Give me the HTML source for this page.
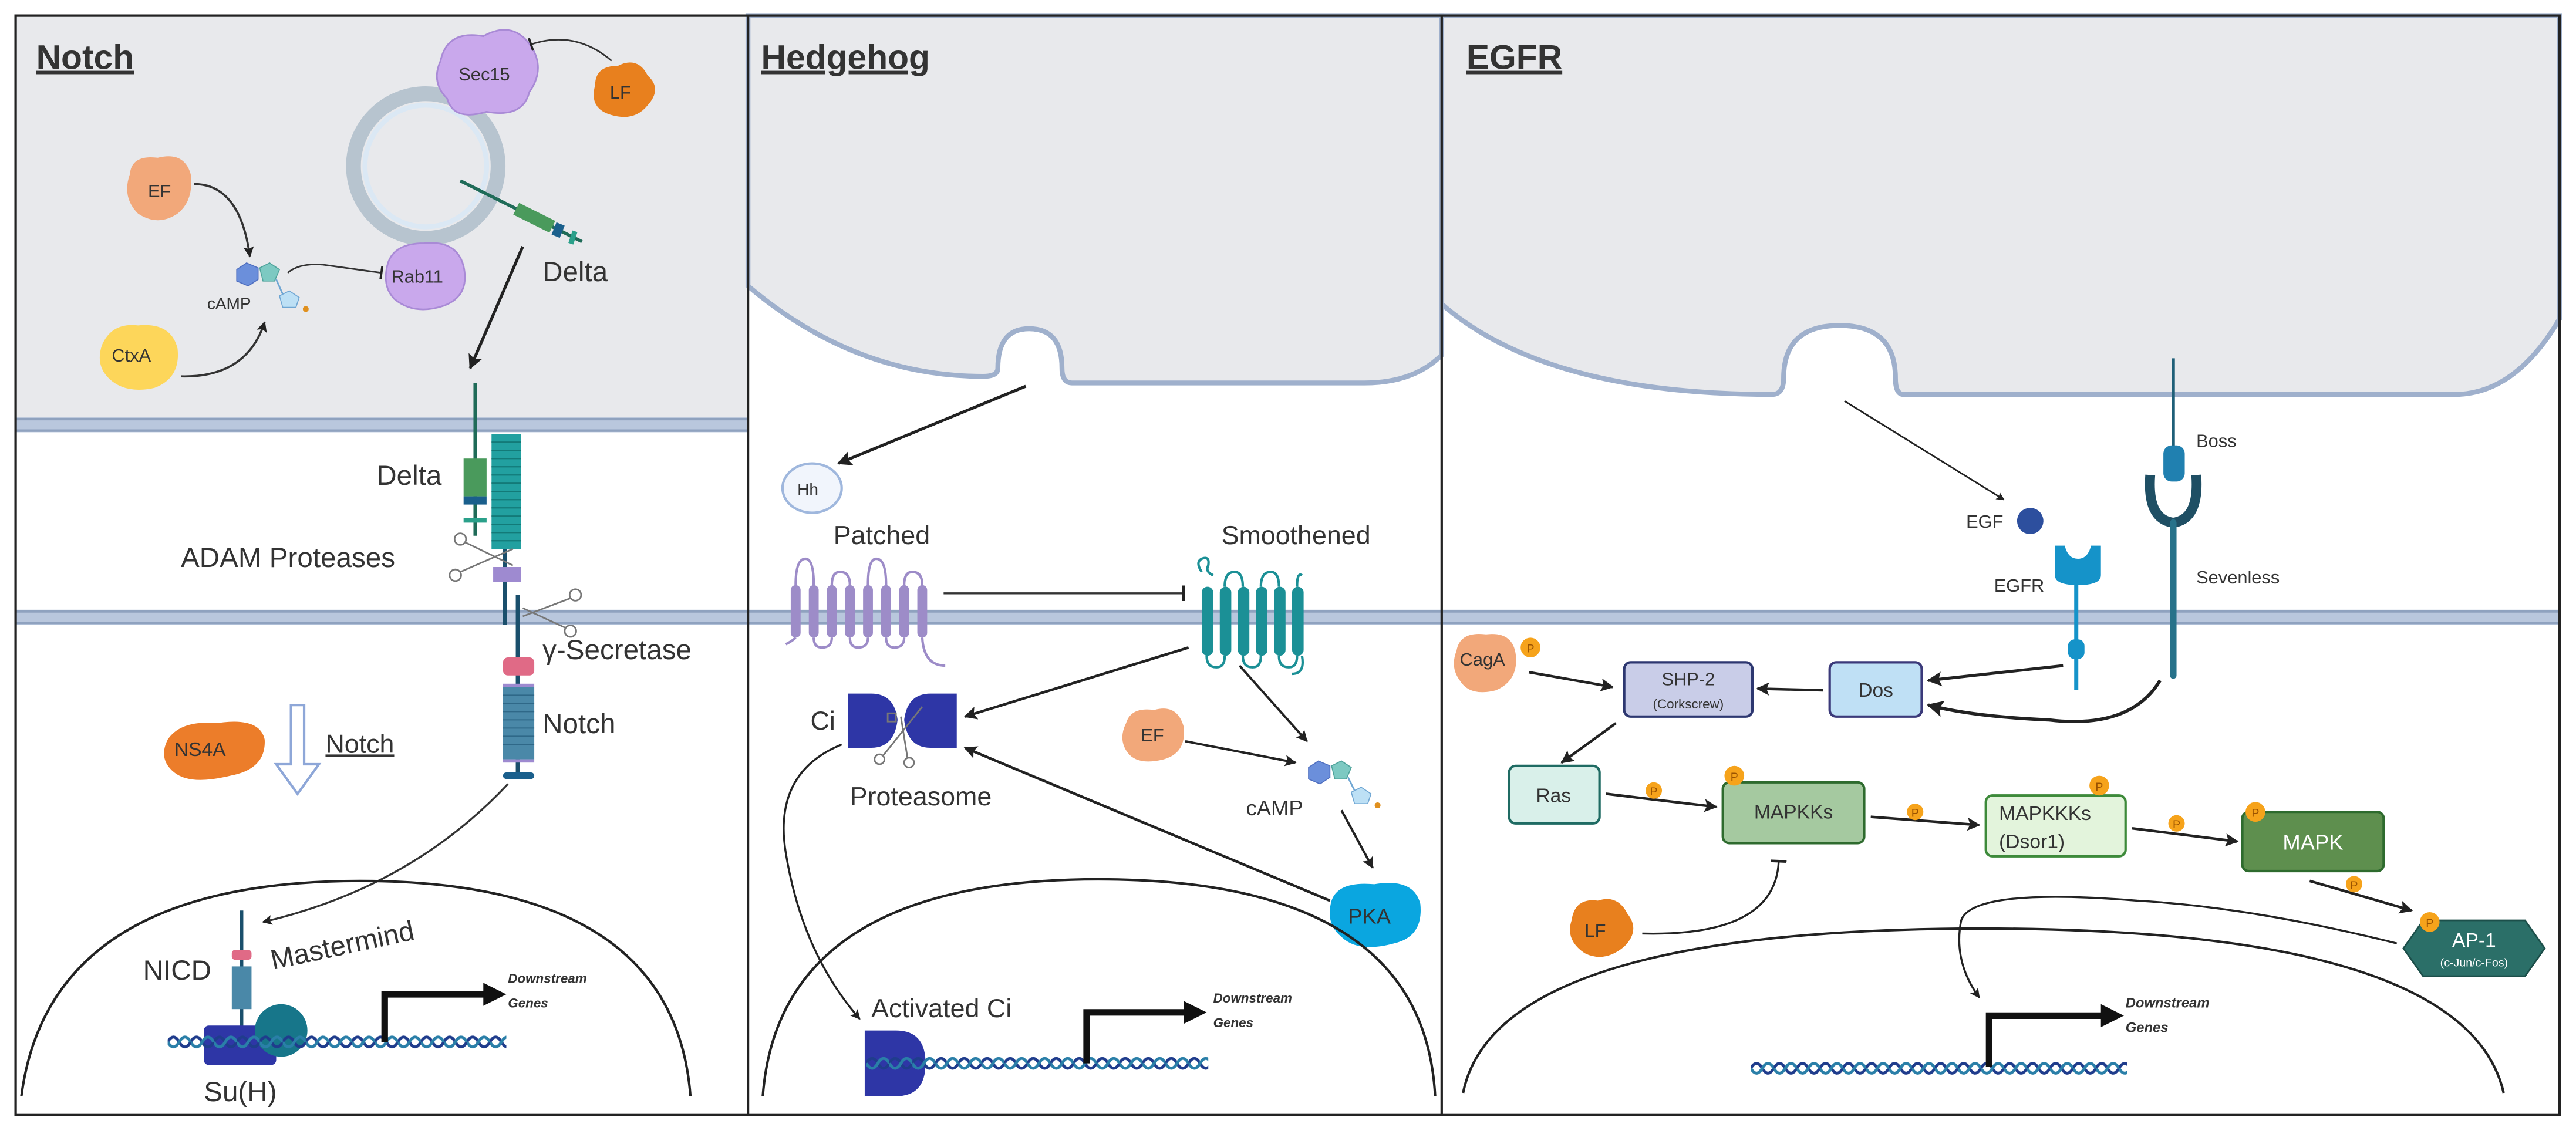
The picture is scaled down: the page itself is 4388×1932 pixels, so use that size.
<!DOCTYPE html>
<html><head><meta charset="utf-8"><style>
html,body{margin:0;padding:0;background:#fff;}
svg{display:block;}
text{font-family:"Liberation Sans",sans-serif;fill:#333;}
.p{font-size:7px;fill:#9a5200;text-anchor:middle;}
</style></head><body>
<svg width="4388" height="1932" viewBox="0 0 1567 690" preserveAspectRatio="none" xmlns="http://www.w3.org/2000/svg">
<defs>
<marker id="ah" viewBox="0 0 10 10" refX="9" refY="5" markerWidth="5" markerHeight="5" orient="auto-start-reverse"><path d="M0 0L10 5L0 10L2 5z" fill="#222"/></marker>
<marker id="tb" viewBox="0 0 4 12" refX="2" refY="6" markerWidth="3" markerHeight="8" orient="auto"><rect x="1" y="0" width="2" height="12" fill="#222"/></marker>
<pattern id="dna" width="14" height="12" patternUnits="userSpaceOnUse"><path d="M0 6Q3.5 0 7 6T14 6" fill="none" stroke="#1f3c8c" stroke-width="1.8"/><path d="M0 6Q3.5 12 7 6T14 6" fill="none" stroke="#2a7fa8" stroke-width="1.8"/></pattern>
</defs>
<rect x="0" y="0" width="1567" height="690" fill="#fff"/>

<!-- ===== NOTCH ===== -->
<rect x="9.5" y="9.5" width="446" height="245" fill="#e8e9ec"/>
<rect x="9.5" y="254" width="446" height="9" fill="#b9c7dd"/>
<line x1="9.5" y1="255" x2="455" y2="255" stroke="#8fa2bf" stroke-width="1.5"/>
<line x1="9.5" y1="262" x2="455" y2="262" stroke="#8fa2bf" stroke-width="1.5"/>
<rect x="9.5" y="371" width="446" height="9" fill="#b9c7dd"/>
<line x1="9.5" y1="372" x2="455" y2="372" stroke="#8fa2bf" stroke-width="1.5"/>
<line x1="9.5" y1="379" x2="455" y2="379" stroke="#8fa2bf" stroke-width="1.5"/>
<text x="22" y="42" font-size="21" font-weight="bold" fill="#111" text-decoration="underline">Notch</text>
<circle cx="259" cy="101" r="44" fill="none" stroke="#b7c4cf" stroke-width="9"/>
<circle cx="259" cy="101" r="37" fill="none" stroke="#dbe8f4" stroke-width="3"/>
<line x1="280" y1="110" x2="354" y2="147" stroke="#1f6b58" stroke-width="2"/>
<line x1="314" y1="127" x2="336" y2="138" stroke="#4a9a5c" stroke-width="8"/>
<line x1="337" y1="139" x2="342" y2="141" stroke="#1a5f8c" stroke-width="8"/>
<line x1="347" y1="144" x2="350" y2="145" stroke="#2aa08a" stroke-width="8"/>
<text x="330" y="171" font-size="17">Delta</text>
<path d="M268 37Q272 18 294 22Q312 12 323 28Q332 42 322 56Q318 72 296 68Q276 74 272 60Q262 50 268 37z" fill="#c9a8ec" stroke="#a98ad6"/>
<text x="279" y="49" font-size="11">Sec15</text>
<path d="M362 52Q362 40 376 40Q388 34 394 46Q403 54 394 64Q386 74 372 70Q358 66 362 52z" fill="#e8801e"/>
<text x="371" y="60" font-size="11" fill="#fff">LF</text>
<path d="M372 37Q350 18 323 27" fill="none" stroke="#333" stroke-width="1" marker-end="url(#tb)"/>
<path d="M79 106Q80 94 96 96Q112 92 116 106Q118 122 108 130Q96 138 84 130Q74 120 79 106z" fill="#f2a87a"/>
<text x="90" y="120" font-size="11">EF</text>
<path d="M62 210Q68 196 84 198Q104 196 108 212Q110 230 94 236Q76 240 66 230Q58 222 62 210z" fill="#fdd65a"/>
<text x="68" y="220" font-size="11">CtxA</text>
<polygon points="144,164 150,160 157,163 157,170 151,174 144,171" fill="#6b8fdb" stroke="#4f6fc0" stroke-width=".6"/>
<polygon points="158,163 164,160 170,164 167,171 160,171" fill="#7dc9c2" stroke="#4fa39b" stroke-width=".6"/>
<polygon points="170,180 176,177 182,181 180,187 172,187" fill="#bde0f5" stroke="#6fa6d3" stroke-width=".6"/>
<line x1="168" y1="170" x2="172" y2="179" stroke="#6fa6d3" stroke-width="1"/>
<circle cx="186" cy="188" r="1.8" fill="#e0901e"/>
<text x="126" y="188" font-size="10">cAMP</text>
<path d="M118 112Q146 112 152 156" fill="none" stroke="#333" stroke-width="1.3" marker-end="url(#ah)"/>
<path d="M110 229Q150 230 161 196" fill="none" stroke="#333" stroke-width="1.3" marker-end="url(#ah)"/>
<path d="M175 166Q182 160 196 161L232 166" fill="none" stroke="#333" stroke-width="1" marker-end="url(#tb)"/>
<path d="M236 160Q240 148 258 148Q278 146 282 162Q286 180 270 186Q252 192 240 182Q232 174 236 160z" fill="#c9a8ec" stroke="#a98ad6"/>
<text x="238" y="172" font-size="11">Rab11</text>
<path d="M318 150L286 224" stroke="#222" stroke-width="1.8" marker-end="url(#ah)"/>
<line x1="289" y1="233" x2="289" y2="326" stroke="#1f6b58" stroke-width="2"/>
<rect x="282" y="279" width="14" height="23" fill="#4a9a5c"/>
<rect x="282" y="302" width="14" height="5" fill="#1a5f8c"/>
<rect x="282" y="315" width="14" height="3" fill="#2aa08a"/>
<rect x="299" y="264" width="18" height="70" fill="#22a0a0"/>
<g stroke="#137a78" stroke-width=".8">
<line x1="299" y1="269" x2="317" y2="269"/><line x1="299" y1="274" x2="317" y2="274"/><line x1="299" y1="279" x2="317" y2="279"/><line x1="299" y1="284" x2="317" y2="284"/><line x1="299" y1="289" x2="317" y2="289"/><line x1="299" y1="294" x2="317" y2="294"/><line x1="299" y1="299" x2="317" y2="299"/><line x1="299" y1="304" x2="317" y2="304"/><line x1="299" y1="309" x2="317" y2="309"/><line x1="299" y1="314" x2="317" y2="314"/><line x1="299" y1="319" x2="317" y2="319"/><line x1="299" y1="324" x2="317" y2="324"/><line x1="299" y1="329" x2="317" y2="329"/>
</g>
<line x1="307" y1="334" x2="307" y2="380" stroke="#1a4f6c" stroke-width="2.5"/>
<rect x="300" y="345" width="17" height="9" fill="#9e8ad0"/>
<line x1="315" y1="362" x2="315" y2="472" stroke="#1a4f6c" stroke-width="2.5"/>
<rect x="306" y="400" width="19" height="11" rx="3" fill="#e06a86"/>
<rect x="306" y="418" width="19" height="44" fill="#4a88a8"/>
<g stroke="#2f6888" stroke-width=".7"><line x1="306" y1="423" x2="325" y2="423"/><line x1="306" y1="428" x2="325" y2="428"/><line x1="306" y1="433" x2="325" y2="433"/><line x1="306" y1="438" x2="325" y2="438"/><line x1="306" y1="443" x2="325" y2="443"/><line x1="306" y1="448" x2="325" y2="448"/><line x1="306" y1="453" x2="325" y2="453"/></g>
<rect x="306" y="416" width="19" height="2" fill="#9e8ad0"/><rect x="306" y="462" width="19" height="2" fill="#9e8ad0"/>
<rect x="306" y="470" width="19" height="4" rx="2" fill="#1a5f8c"/>
<g stroke="#777" stroke-width="1" fill="none"><circle cx="280" cy="328" r="3.5"/><circle cx="277" cy="350" r="3.5"/><line x1="283" y1="330" x2="312" y2="344"/><line x1="280" y1="348" x2="312" y2="334"/>
<circle cx="350" cy="362" r="3.5"/><circle cx="347" cy="384" r="3.5"/><line x1="347" y1="364" x2="318" y2="375"/><line x1="344" y1="382" x2="318" y2="370"/></g>
<text x="229" y="295" font-size="17">Delta</text>
<text x="110" y="345" font-size="17">ADAM Proteases</text>
<text x="330" y="401" font-size="17">γ-Secretase</text>
<text x="330" y="446" font-size="17">Notch</text>
<path d="M102 450Q110 438 132 440Q158 436 161 450Q162 468 140 472Q116 478 106 470Q96 462 102 450z" fill="#ec7d2a"/>
<text x="106" y="460" font-size="12">NS4A</text>
<path d="M177 429h8v36h9l-13 18l-13 -18h9z" fill="#fff" stroke="#8ea7d8" stroke-width="1.5"/>
<text x="198" y="458" font-size="16" text-decoration="underline">Notch</text>
<path d="M309 477Q250 540 160 561" fill="none" stroke="#333" stroke-width="1.2" marker-end="url(#ah)"/>
<path d="M13 667Q30 536 219 536Q410 536 420 667" fill="none" stroke="#222" stroke-width="1.5"/>
<line x1="147" y1="554" x2="147" y2="625" stroke="#1a4f6c" stroke-width="2"/>
<rect x="141" y="578" width="12" height="6" rx="2" fill="#e06a86"/>
<rect x="141" y="588" width="12" height="26" fill="#4a88a8"/>
<rect x="124" y="624" width="44" height="24" rx="3" fill="#2e36a6"/>
<circle cx="171" cy="627" r="16" fill="#17768a"/>
<g transform="translate(102,628)"><rect width="206" height="12" fill="url(#dna)"/></g>
<path d="M234 634V605H296" fill="none" stroke="#111" stroke-width="4"/>
<polygon points="294,598 308,605 294,612" fill="#111"/>
<text x="87" y="596" font-size="17">NICD</text>
<text x="166" y="590" font-size="17" transform="rotate(-12 166 590)">Mastermind</text>
<text x="124" y="670" font-size="17">Su(H)</text>
<text x="309" y="598" font-size="8" font-style="italic" font-weight="bold">Downstream</text>
<text x="309" y="613" font-size="8" font-style="italic" font-weight="bold">Genes</text>

<!-- ===== HEDGEHOG ===== -->
<path d="M455 9.5H877V216Q860 233 830 233H652Q646 233 646 224Q646 200 626 200Q607 200 607 224Q607 229 598 229Q520 229 455 174z" fill="#e8e9ec" stroke="#9fb0cc" stroke-width="3"/>
<text x="463" y="42" font-size="21" font-weight="bold" fill="#111" text-decoration="underline">Hedgehog</text>
<rect x="455" y="371" width="422" height="9" fill="#b9c7dd"/>
<line x1="455" y1="372" x2="877" y2="372" stroke="#8fa2bf" stroke-width="1.5"/>
<line x1="455" y1="379" x2="877" y2="379" stroke="#8fa2bf" stroke-width="1.5"/>
<path d="M624 235L510 282" stroke="#222" stroke-width="1.8" marker-end="url(#ah)"/>
<ellipse cx="494" cy="297" rx="18" ry="15" fill="#f1f5fc" stroke="#9fb7dd" stroke-width="1.5"/>
<text x="485" y="301" font-size="10">Hh</text>
<text x="507" y="331" font-size="16">Patched</text>
<g fill="#9d8cc8">
<rect x="481" y="356" width="6" height="32" rx="3"/><rect x="492" y="356" width="6" height="32" rx="3"/><rect x="503" y="356" width="6" height="32" rx="3"/><rect x="514" y="356" width="6" height="32" rx="3"/><rect x="525" y="356" width="6" height="32" rx="3"/><rect x="536" y="356" width="6" height="32" rx="3"/><rect x="547" y="356" width="6" height="32" rx="3"/><rect x="558" y="356" width="6" height="32" rx="3"/>
</g>
<g fill="none" stroke="#9d8cc8" stroke-width="1.5"><path d="M478 392Q482 390 484 388"/><path d="M484 356Q484 340 490 340Q495 340 495 356"/><path d="M506 356Q506 348 511 348Q517 348 517 356"/><path d="M528 356Q528 340 533 340Q539 340 539 356"/><path d="M550 356Q550 348 555 348Q561 348 561 356"/><path d="M495 388Q495 394 500 394Q506 394 506 388"/><path d="M517 388Q517 394 522 394Q528 394 528 388"/><path d="M539 388Q539 394 544 394Q550 394 550 388"/><path d="M561 388Q562 405 575 405"/></g>
<path d="M574 361H720" stroke="#333" stroke-width="1.2" marker-end="url(#tb)"/>
<path d="M731 348q-4 -6 0 -8q5 -2 4 4q-2 4 3 6" fill="none" stroke="#1b9096" stroke-width="1.5"/>
<g fill="#1b9096"><rect x="731" y="357" width="7" height="42" rx="3.5"/><rect x="742" y="357" width="7" height="42" rx="3.5"/><rect x="753" y="357" width="7" height="42" rx="3.5"/><rect x="764" y="357" width="7" height="42" rx="3.5"/><rect x="775" y="357" width="7" height="42" rx="3.5"/><rect x="786" y="357" width="7" height="42" rx="3.5"/></g>
<g fill="none" stroke="#1b9096" stroke-width="1.5"><path d="M745 357Q745 348 751 348Q756 348 756 357"/><path d="M767 357Q767 348 773 348Q778 348 778 357"/><path d="M789 357Q789 348 792 350"/><path d="M734 399Q734 406 740 406Q745 406 745 399"/><path d="M756 399Q756 406 762 406Q767 406 767 399"/><path d="M778 399Q778 406 784 406Q789 406 789 399"/><path d="M792 399Q794 410 786 410"/></g>
<text x="743" y="331" font-size="16">Smoothened</text>
<path d="M723 394L587 436" stroke="#222" stroke-width="1.6" marker-end="url(#ah)"/>
<path d="M516 422H530Q544 422 546 438Q544 455 530 455H516z" fill="#2e36a6"/>
<path d="M582 422H566Q552 422 550 438Q552 455 566 455H582z" fill="#2e36a6"/>
<g stroke="#777" stroke-width="1" fill="none"><rect x="540" y="434" width="5" height="5"/><circle cx="535" cy="462" r="3"/><circle cx="553" cy="464" r="3"/><line x1="537" y1="460" x2="561" y2="430"/><line x1="552" y1="461" x2="548" y2="436"/></g>
<text x="493" y="444" font-size="16">Ci</text>
<text x="517" y="490" font-size="16">Proteasome</text>
<path d="M754 405L795 451" stroke="#222" stroke-width="1.4" marker-end="url(#ah)"/>
<path d="M685 440Q688 430 702 432Q716 428 720 442Q722 458 708 462Q692 466 686 458Q680 450 685 440z" fill="#f2a87a"/>
<text x="694" y="451" font-size="11">EF</text>
<path d="M721 451L788 464" stroke="#222" stroke-width="1.4" marker-end="url(#ah)"/>
<polygon points="796,467 802,463 809,466 809,473 803,477 796,474" fill="#6b8fdb" stroke="#4f6fc0" stroke-width=".6"/>
<polygon points="810,466 816,463 822,467 819,474 812,474" fill="#7dc9c2" stroke="#4fa39b" stroke-width=".6"/>
<polygon points="822,482 828,479 834,483 832,489 824,489" fill="#bde0f5" stroke="#6fa6d3" stroke-width=".6"/>
<line x1="820" y1="473" x2="824" y2="481" stroke="#6fa6d3" stroke-width="1"/>
<circle cx="838" cy="490" r="1.8" fill="#e0901e"/>
<text x="758" y="496" font-size="13">cAMP</text>
<path d="M816 493L835 528" stroke="#222" stroke-width="1.4" marker-end="url(#ah)"/>
<path d="M810 548Q814 536 836 538Q860 534 864 550Q866 570 848 574Q826 580 816 570Q806 562 810 548z" fill="#0aa6e0"/>
<text x="820" y="562" font-size="13" fill="#111">PKA</text>
<path d="M809 548L587 455" stroke="#222" stroke-width="1.6" marker-end="url(#ah)"/>
<path d="M512 453Q470 470 478 519Q488 580 523 620" fill="none" stroke="#222" stroke-width="1.2" marker-end="url(#ah)"/>
<path d="M464 667Q474 535 668 535Q866 535 873 667" fill="none" stroke="#222" stroke-width="1.5"/>
<text x="530" y="619" font-size="16">Activated Ci</text>
<path d="M526 627H545Q563 627 563 647Q563 667 545 667H526z" fill="#2e36a6"/>
<g transform="translate(527,641)"><rect width="208" height="12" fill="url(#dna)"/></g>
<path d="M661 647V616H722" fill="none" stroke="#111" stroke-width="4"/>
<polygon points="720,609 734,616 720,623" fill="#111"/>
<text x="738" y="610" font-size="8" font-style="italic" font-weight="bold">Downstream</text>
<text x="738" y="625" font-size="8" font-style="italic" font-weight="bold">Genes</text>

<!-- ===== EGFR ===== -->
<path d="M877 9.5H1557V194Q1530 240 1493 240H1158Q1153 240 1153 230Q1153 198 1119 198Q1085 198 1085 230Q1085 240 1078 240Q940 240 877 185z" fill="#e8e9ec" stroke="#9fb0cc" stroke-width="3"/>
<text x="892" y="42" font-size="21" font-weight="bold" fill="#111" text-decoration="underline">EGFR</text>
<rect x="877" y="371" width="680" height="9" fill="#b9c7dd"/>
<line x1="877" y1="372" x2="1557" y2="372" stroke="#8fa2bf" stroke-width="1.5"/>
<line x1="877" y1="379" x2="1557" y2="379" stroke="#8fa2bf" stroke-width="1.5"/>
<path d="M1122 244L1219 304" stroke="#222" stroke-width="1" marker-end="url(#ah)"/>
<text x="1196" y="321" font-size="11">EGF</text>
<circle cx="1235" cy="317" r="8" fill="#2d4f9e"/>
<path d="M1250 332H1256Q1258 340 1264 340Q1270 340 1272 332H1278V350Q1278 356 1264 356Q1250 356 1250 350z" fill="#1593c9"/>
<line x1="1263" y1="356" x2="1263" y2="420" stroke="#1593c9" stroke-width="2.5"/>
<rect x="1258" y="389" width="10" height="12" rx="4" fill="#1593c9"/>
<text x="1213" y="360" font-size="11">EGFR</text>
<line x1="1322" y1="218" x2="1322" y2="280" stroke="#1f5f78" stroke-width="2"/>
<rect x="1316" y="271" width="13" height="22" rx="5" fill="#2080b0"/>
<path d="M1308 289Q1306 316 1322 318Q1338 316 1336 289" fill="none" stroke="#1f4f64" stroke-width="6"/>
<line x1="1322" y1="318" x2="1322" y2="411" stroke="#27728a" stroke-width="4" stroke-linecap="round"/>
<text x="1336" y="272" font-size="11">Boss</text>
<text x="1336" y="355" font-size="11">Sevenless</text>
<path d="M886 396Q888 384 904 386Q920 384 922 398Q924 414 910 420Q894 424 888 414Q882 406 886 396z" fill="#f2a87a"/>
<text x="888" y="405" font-size="11">CagA</text>
<circle cx="931" cy="394" r="6" fill="#f6a31b"/><text x="931" y="397" class="p">P</text>
<path d="M930 409L981 418" stroke="#222" stroke-width="1.6" marker-end="url(#ah)"/>
<rect x="988" y="403" width="78" height="33" rx="4" fill="#c9cde8" stroke="#2d3770" stroke-width="1.5"/>
<text x="1027" y="417" font-size="11" text-anchor="middle">SHP-2</text>
<text x="1027" y="431" font-size="8" text-anchor="middle">(Corkscrew)</text>
<rect x="1113" y="403" width="56" height="33" rx="4" fill="#bfe0f5" stroke="#3b3a7a" stroke-width="1.5"/>
<text x="1141" y="424" font-size="12" text-anchor="middle">Dos</text>
<path d="M1109 420L1069 419" stroke="#222" stroke-width="1.6" marker-end="url(#ah)"/>
<path d="M1255 405L1173 414" stroke="#222" stroke-width="1.8" marker-end="url(#ah)"/>
<path d="M1314 414Q1296 444 1246 438Q1200 436 1173 429" fill="none" stroke="#222" stroke-width="2" marker-end="url(#ah)"/>
<path d="M983 440L950 464" stroke="#222" stroke-width="1.6" marker-end="url(#ah)"/>
<rect x="918" y="466" width="55" height="35" rx="4" fill="#d9f0ea" stroke="#1f6b63" stroke-width="1.5"/>
<text x="945" y="488" font-size="12" text-anchor="middle">Ras</text>
<path d="M977 483L1044 491" stroke="#222" stroke-width="1.6" marker-end="url(#ah)"/>
<circle cx="1006" cy="481" r="5" fill="#f6a31b"/><text x="1006" y="484" class="p">P</text>
<rect x="1048" y="476" width="86" height="37" rx="4" fill="#a5c9a0" stroke="#2e6b2e" stroke-width="1.5"/>
<text x="1091" y="498" font-size="12" text-anchor="middle">MAPKKs</text>
<circle cx="1055" cy="472" r="6" fill="#f6a31b"/><text x="1055" y="475" class="p">P</text>
<path d="M1138 497L1204 502" stroke="#222" stroke-width="1.6" marker-end="url(#ah)"/>
<circle cx="1165" cy="494" r="5" fill="#f6a31b"/><text x="1165" y="497" class="p">P</text>
<rect x="1208" y="484" width="85" height="37" rx="4" fill="#e3f4dc" stroke="#3d8a3a" stroke-width="1.5"/>
<text x="1216" y="499" font-size="12">MAPKKKs</text>
<text x="1216" y="516" font-size="12">(Dsor1)</text>
<circle cx="1277" cy="478" r="6" fill="#f6a31b"/><text x="1277" y="481" class="p">P</text>
<path d="M1297 504L1361 512" stroke="#222" stroke-width="1.6" marker-end="url(#ah)"/>
<circle cx="1324" cy="501" r="5" fill="#f6a31b"/><text x="1324" y="504" class="p">P</text>
<rect x="1364" y="494" width="86" height="36" rx="4" fill="#5e8f4e" stroke="#2e6b2e" stroke-width="1.5"/>
<text x="1407" y="517" font-size="13" text-anchor="middle" fill="#fff" style="fill:#fff">MAPK</text>
<circle cx="1372" cy="494" r="6" fill="#f6a31b"/><text x="1372" y="497" class="p">P</text>
<path d="M1405 536L1467 554" stroke="#222" stroke-width="1.6" marker-end="url(#ah)"/>
<circle cx="1432" cy="538" r="5" fill="#f6a31b"/><text x="1432" y="541" class="p">P</text>
<polygon points="1462,577 1474,560 1536,560 1548,577 1536,594 1474,594" fill="#2b6f68" stroke="#1c4f4a" stroke-width="1"/>
<text x="1505" y="576" font-size="12" text-anchor="middle" style="fill:#fff">AP-1</text>
<text x="1505" y="588" font-size="7" text-anchor="middle" style="fill:#fff">(c-Jun/c-Fos)</text>
<circle cx="1478" cy="561" r="6" fill="#f6a31b"/><text x="1478" y="564" class="p">P</text>
<path d="M956 560Q958 546 972 548Q984 544 990 556Q998 566 988 576Q976 586 964 580Q952 572 956 560z" fill="#e8801e"/>
<text x="964" y="570" font-size="11">LF</text>
<path d="M999 568Q1080 570 1082 524" fill="none" stroke="#222" stroke-width="1.2" marker-end="url(#tb)"/>
<path d="M1458 574Q1370 552 1300 548Q1200 540 1193 560Q1188 585 1204 607" fill="none" stroke="#222" stroke-width="1.2" marker-end="url(#ah)"/>
<path d="M890 665Q910 565 1206 565Q1500 565 1523 665" fill="none" stroke="#222" stroke-width="1.5"/>
<g transform="translate(1065,644)"><rect width="229" height="12" fill="url(#dna)"/></g>
<path d="M1210 649V618H1280" fill="none" stroke="#111" stroke-width="4"/>
<polygon points="1278,611 1292,618 1278,625" fill="#111"/>
<text x="1293" y="613" font-size="8.5" font-style="italic" font-weight="bold">Downstream</text>
<text x="1293" y="628" font-size="8.5" font-style="italic" font-weight="bold">Genes</text>

<rect x="9.5" y="9.5" width="1547.5" height="669" fill="none" stroke="#222" stroke-width="1.5"/>
<line x1="455" y1="9.5" x2="455" y2="678.5" stroke="#222" stroke-width="1.5"/>
<line x1="877" y1="9.5" x2="877" y2="678.5" stroke="#222" stroke-width="1.5"/>
</svg>
</body></html>
